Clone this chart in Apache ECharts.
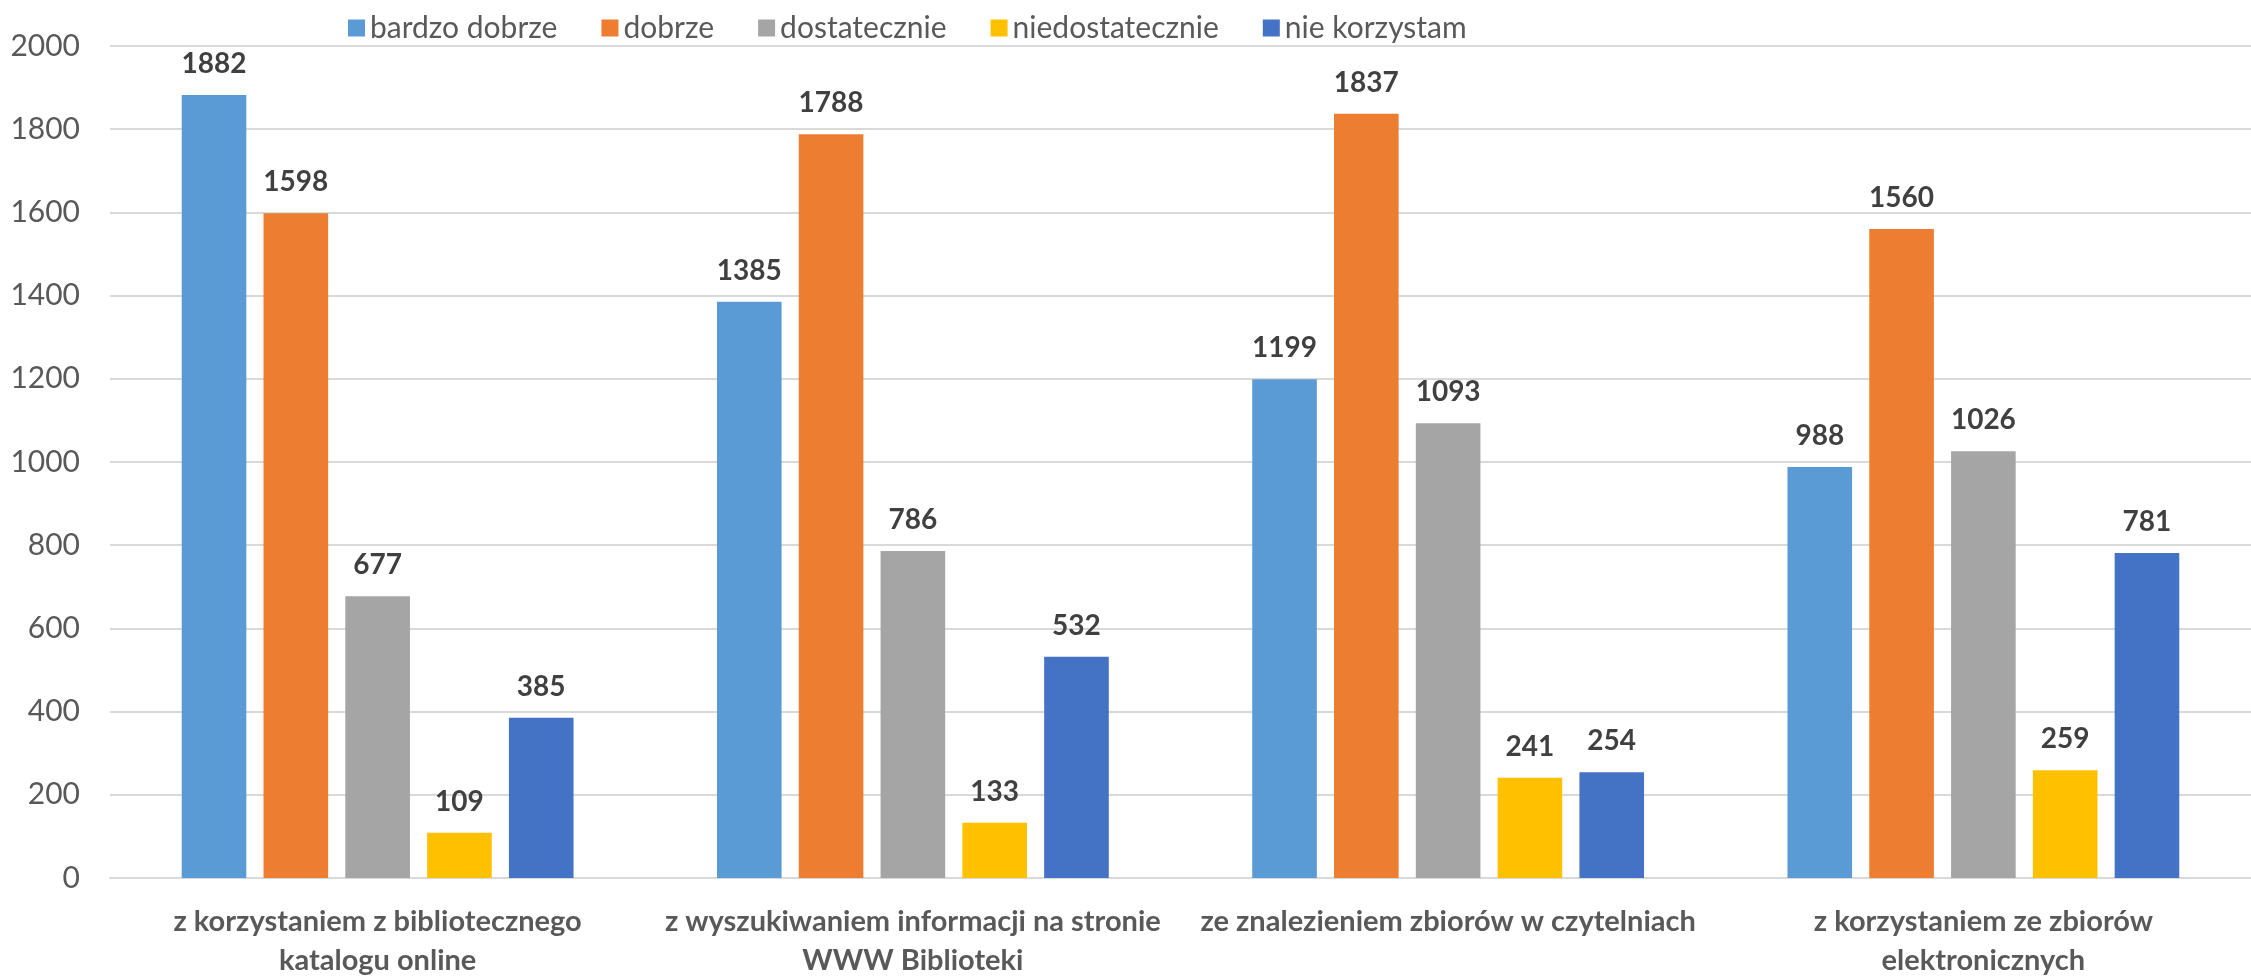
<!DOCTYPE html>
<html>
<head>
<meta charset="utf-8">
<script src="https://cdn.jsdelivr.net/npm/echarts@6/dist/echarts.min.js"></script>
<style>
html,body{margin:0;padding:0;background:#fff;}
#chart{width:2251px;height:980px;}
</style>
</head>
<body>
<div id="chart"></div>
<script>
const categories = [
  "z korzystaniem z bibliotecznego\nkatalogu online",
  "z wyszukiwaniem informacji na stronie\nWWW Biblioteki",
  "ze znalezieniem zbiorów w czytelniach",
  "z korzystaniem ze zbiorów\nelektronicznych"
];
const seriesNames = ["bardzo dobrze", "dobrze", "dostatecznie", "niedostatecznie", "nie korzystam"];
const bardzoDobrze = [1882, 1385, 1199, 988];
const dobrze = [1598, 1788, 1837, 1560];
const dostatecznie = [677, 786, 1093, 1026];
const niedostatecznie = [109, 133, 241, 259];
const nieKorzystam = [385, 532, 254, 781];
const yTicks = { min: 0, max: 2000, interval: 200 };

const seriesData = [bardzoDobrze, dobrze, dostatecznie, niedostatecznie, nieKorzystam];
const colors = ["#5B9BD5", "#ED7D31", "#A5A5A5", "#FFC000", "#4472C4"];
const FONT = "Lato, 'Noto Sans', sans-serif";

const chart = echarts.init(document.getElementById('chart'));
chart.setOption({
  animation: false,
  backgroundColor: '#ffffff',
  color: colors,
  legend: {
    left: 343,
    top: 8,
    itemWidth: 17,
    itemHeight: 17,
    itemGap: 44,
    icon: 'rect',
    textStyle: { fontFamily: FONT, fontSize: 30, color: '#595959' },
    data: seriesNames
  },
  grid: { left: 110, top: 46, width: 2155, height: 838, containLabel: false },
  xAxis: {
    type: 'category',
    data: categories,
    axisLine: { show: true, lineStyle: { color: '#D9D9D9', width: 2 } },
    axisTick: { show: false },
    axisLabel: {
      fontFamily: FONT, fontSize: 29, fontWeight: 'bold', color: '#595959',
      margin: 24, lineHeight: 39, interval: 0
    }
  },
  yAxis: {
    type: 'value',
    min: yTicks.min, max: yTicks.max, interval: yTicks.interval,
    axisLine: { show: false },
    axisTick: { show: false },
    splitLine: { lineStyle: { color: '#D9D9D9', width: 2 } },
    axisLabel: {
      fontFamily: FONT, fontSize: 30, color: '#595959', margin: 30,
      formatter: function (v) { return String(v); }
    }
  },
  series: seriesNames.map((name, i) => ({
    name: name,
    type: 'bar',
    data: seriesData[i],
    barGap: '26.6%',
    barCategoryGap: '26.8%',
    itemStyle: { color: colors[i] },
    label: {
      show: true, position: 'top', distance: 17,
      fontFamily: FONT, fontSize: 28, fontWeight: 'bold', color: '#404040'
    }
  }))
});
</script>
</body>
</html>
